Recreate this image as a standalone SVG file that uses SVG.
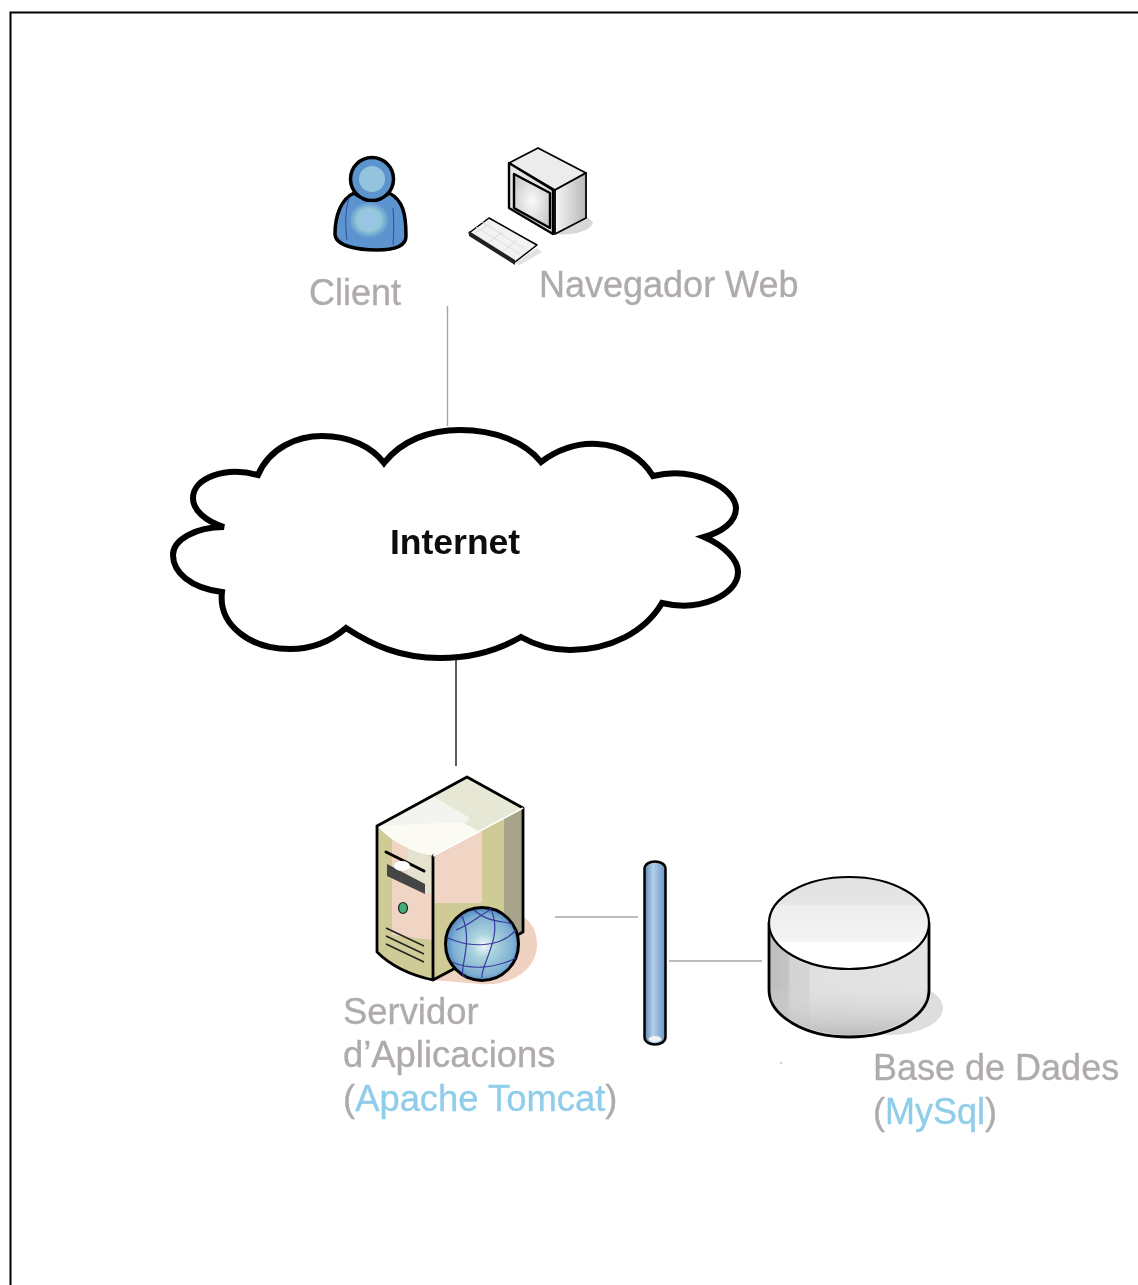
<svg xmlns="http://www.w3.org/2000/svg" width="1138" height="1285" viewBox="0 0 1138 1285">
<defs>
<style>
text{font-family:"Liberation Sans",Arial,sans-serif;font-size:36px;fill:#b0abab;stroke:#b0abab;stroke-width:.35;filter:url(#t)}
.b{fill:#8fcdea;stroke:#8fcdea}
.w{font-size:36.400px}
.o{stroke:#000;stroke-linejoin:round;stroke-linecap:round}
.ln{stroke:#a8a4a4;stroke-width:1.4;fill:none}
</style>
<filter id="s" x="-10%" y="-10%" width="120%" height="120%"><feGaussianBlur stdDeviation="0.6"/></filter>
<filter id="t" x="-5%" y="-10%" width="110%" height="120%"><feGaussianBlur stdDeviation="0.45"/></filter>
<linearGradient id="cyl" x1="0" x2="1" y1="0" y2="0"><stop offset="0" stop-color="#bdbdbd"/><stop offset=".12" stop-color="#c4c4c4"/><stop offset=".13" stop-color="#d2d2d2"/><stop offset=".25" stop-color="#d6d6d6"/><stop offset=".26" stop-color="#e0e0e0"/><stop offset="1" stop-color="#e4e4e4"/></linearGradient>
<linearGradient id="top" x1="0" x2="0" y1="0" y2="1"><stop offset="0" stop-color="#e2e2e2"/><stop offset=".3" stop-color="#e6e6e6"/><stop offset=".31" stop-color="#ededed"/><stop offset=".52" stop-color="#f1f1f1"/><stop offset=".7" stop-color="#f4f4f4"/><stop offset=".71" stop-color="#fff"/></linearGradient>
<linearGradient id="cylb" x1="0" x2="0" y1="0" y2="1"><stop offset="0" stop-color="#dcdcdc" stop-opacity="0"/><stop offset="1" stop-color="#bdbdbd"/></linearGradient>
<linearGradient id="pipe" x1="0" x2="1" y1="0" y2="0"><stop offset="0" stop-color="#5f86b8"/><stop offset=".4" stop-color="#b3d0ea"/><stop offset="1" stop-color="#6c94c4"/></linearGradient>
<radialGradient id="glb" cx=".52" cy=".52" r=".55"><stop offset="0" stop-color="#f4f8fc"/><stop offset=".3" stop-color="#a9d3dc"/><stop offset=".75" stop-color="#7fb0d2"/><stop offset="1" stop-color="#3f78bb"/></radialGradient>
<radialGradient id="pb" cx=".5" cy=".5" r=".5"><stop offset="0" stop-color="#9cc4ee"/><stop offset=".6" stop-color="#94c8d8"/><stop offset="1" stop-color="#5f95cf"/></radialGradient>
<linearGradient id="mside" x1="0" x2="1" y1="0" y2="0"><stop offset="0" stop-color="#f6f6f6"/><stop offset="1" stop-color="#b8b8b8"/></linearGradient>
<radialGradient id="scr" cx=".5" cy=".5" r=".6"><stop offset="0" stop-color="#fafafa"/><stop offset="1" stop-color="#c8c8c8"/></radialGradient>
</defs>
<rect width="1138" height="1285" fill="#fff"/>
<g id="frame"><path d="M10.500 1285V12.500H1138" fill="none" stroke="#000" stroke-width="2"/></g>
<g id="connectors">
<line class="ln" x1="447.500" y1="306" x2="447.500" y2="426"/>
<line x1="456" y1="658" x2="456" y2="766" stroke="#333" stroke-width="1.600"/>
<line class="ln" x1="555" y1="917" x2="638" y2="917"/>
<line class="ln" x1="669" y1="961" x2="762" y2="961"/>
</g>
<g id="client" filter="url(#s)">
<path class="o" d="M354 193C341 199 335 216 335 234C335 246 358 250 377 250C392 250 406 247 406 236C406 214 403 200 389 193C380 201 363 201 354 193Z" fill="#5d94d0" stroke-width="3.500"/>
<circle class="o" cx="372" cy="179" r="21.500" fill="#5d94d0" stroke-width="3.500"/>
<circle cx="372" cy="179" r="13" fill="#93c3dd"/>
<ellipse cx="369" cy="220" rx="20" ry="18" fill="url(#pb)"/>
<path d="M349 198C345 212 345 225 347 240M393 208C394 222 394 232 393 245" fill="none" stroke="#2c4f9e" stroke-width="1"/>
</g>
<text x="309" y="305">Client</text>
<g id="browser" filter="url(#s)">
<path d="M556 234L586 216L593 222C592 230 575 236 556 234Z" fill="#d8d8d8"/>
<path d="M515 263L537 248L542 252L520 265Z" fill="#e2e2e2"/>
<path class="o" d="M509 163L538 148L586 173L555 190Z" fill="#ececec" stroke-width="1.800"/>
<path class="o" d="M555 190L586 173V218L555 234Z" fill="url(#mside)" stroke-width="1.800"/>
<path class="o" d="M509 163L553 190V234L509 208Z" fill="#e4e4e4" stroke-width="2.400"/>
<path class="o" d="M514 174L550 193V228L514 208Z" fill="url(#scr)" stroke-width="2.400"/>
<path class="o" d="M489 218L537 245L515 262L469 233Z" fill="#f2f2f2" stroke-width="1.500"/>
<path d="M469 236L515 265L515 260L469 231Z" fill="#222"/>
<path d="M482 222L525 249M476 227L520 254M490 224L475 233M503 232L488 243M517 240L503 251" stroke="#dcdcdc" fill="none"/>
</g>
<text x="539" y="297">Navegador Web</text>
<g id="internet">
<path d="M258 475C270 447 298 436 322 436C350 436 372 447 384 463C402 440 430 430 460 430C495 430 525 442 541 462C560 448 580 443 597 444C622 445 642 458 653 476C695 466 735 488 736 508C736 522 722 532 704 537C725 546 738 560 738 572C738 595 700 612 662 603C645 632 610 650 570 650C550 650 535 645 521 637C495 652 465 658 440 658C400 658 372 645 346 628C330 642 310 649 290 649C250 649 218 625 222 592C190 588 173 572 173 555C173 540 195 527 224 527C205 521 193 510 193 498C193 478 225 466 258 475Z" fill="#fff" stroke="#000" stroke-width="6" stroke-linejoin="miter" filter="url(#t)"/>
<text x="390" y="554" style="font-weight:700;fill:#111;stroke:none;font-size:35.500px">Internet</text>
</g>
<g id="server" filter="url(#s)">
<path d="M480 984C510 987 537 970 537 945C537 930 530 920 524 918V932L433 980Z" fill="#f0d2c2"/>
<path d="M433 856L523 808V932L433 980Z" fill="#f0d5c5"/>
<path d="M504 818L523 808V932L504 942Z" fill="#a8a48c"/>
<path d="M482 830L504 818V942L482 954Z" fill="#cfcb96"/>
<path d="M433 903L482 903V954L433 980Z" fill="#cfcb96"/>
<path d="M377 826L433 856V980C410 975 390 965 377 952Z" fill="#cfcb96"/>
<path d="M392 838L433 858V940L392 935Z" fill="#f0d5c5"/>
<path d="M408 846L433 858V895L408 885Z" fill="#e6e2d0"/>
<path d="M377 826L467 777L523 808L433 856Z" fill="#e7e7d5"/>
<path d="M377 826L433 796L470 818L433 856C412 852 392 842 377 826Z" fill="#f3f3f0"/>
<path d="M377 826C392 842 412 852 433 856L480 832L462 822Z" fill="#fbfbf4"/>
<path class="o" d="M433 980V856M377 826V952C390 965 410 975 433 980L523 932V808L467 777L377 826" fill="none" stroke-width="2.800"/>
<path d="M433 856L523 808" stroke="#fff" stroke-width="1.500"/>
<path class="o" d="M386 852L424 871" fill="none" stroke-width="3"/>
<path d="M387 864L425 884V894L387 876Z" fill="#444"/>
<ellipse cx="402" cy="866" rx="8" ry="5" fill="#fff"/>
<ellipse cx="403" cy="908" rx="4.500" ry="5.500" fill="#3fae7a" stroke="#222" stroke-width="1.200"/>
<path d="M386 928L424 946M386 936L424 954M386 944L424 962" stroke="#222" stroke-width="1.500" fill="none"/>
<circle cx="482" cy="944" r="36.500" fill="url(#glb)" stroke="#000" stroke-width="3"/>
<path d="M448 938C470 948 500 948 516 930M452 962C475 972 500 966 516 958M462 916C475 945 455 975 466 978M490 908C505 935 480 965 482 978M474 910C490 925 510 920 512 925M456 930C470 925 480 915 490 910" fill="none" stroke="#3a3a9e" stroke-width="1.200"/>
</g>
<text class="w" x="343" y="1024">Servidor</text>
<text class="w" x="343" y="1067">d’Aplicacions</text>
<text class="w" x="343" y="1111">(<tspan class="b">Apache Tomcat</tspan>)</text>
<g id="bus" filter="url(#s)">
<path class="o" d="M644.500 869C644.500 859 665.500 859 665.500 869V1037C665.500 1047 644.500 1047 644.500 1037Z" fill="url(#pipe)" stroke-width="2.500"/>
<ellipse cx="655" cy="1039" rx="6.500" ry="3" fill="#f2f2f2"/>
</g>
<g id="database">
<g filter="url(#s)">
<ellipse cx="890" cy="1008" rx="53" ry="27" fill="#dedede"/>
<path class="o" d="M769 923V990C769 1016 805 1037 849 1037C893 1037 929 1016 929 990V923Z" fill="url(#cyl)" stroke-width="2.800"/>
<path d="M771 1000C785 1022 815 1035 849 1035C883 1035 913 1022 927 1000L927 985H771Z" fill="url(#cylb)"/>
<ellipse class="o" cx="849" cy="923" rx="80" ry="46" fill="url(#top)" stroke-width="2.200"/>
</g>
<circle cx="781" cy="1063" r=".7" fill="#777"/>
</g>
<text x="873" y="1080">Base de Dades</text>
<text x="873" y="1124">(<tspan class="b">MySql</tspan>)</text>
</svg>
